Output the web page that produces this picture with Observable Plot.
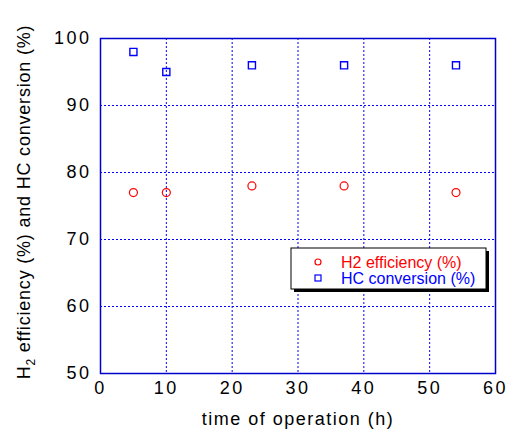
<!DOCTYPE html>
<html><head><meta charset="utf-8">
<script src="https://cdn.jsdelivr.net/npm/d3@7"></script>
<script src="https://cdn.jsdelivr.net/npm/@observablehq/plot@0.6"></script>
<style>body{margin:0;background:#fff}</style>
</head><body><div id="chart"></div>
<script>
const times = [5, 10, 23, 37, 54];
const h2Efficiency = [77, 77, 78, 78, 77];
const hcConversion = [98, 95, 96, 96, 96];
const xTicks = [0, 10, 20, 30, 40, 50, 60];
const yTicks = [50, 60, 70, 80, 90, 100];
const seriesNames = ["H2 efficiency (%)", "HC conversion (%)"];

const h2 = times.map((t, i) => ({t, v: h2Efficiency[i]}));
const hc = times.map((t, i) => ({t, v: hcConversion[i]}));
const font = "Liberation Sans, Arial, sans-serif";

const plot = Plot.plot({
  width: 509, height: 432,
  marginLeft: 100, marginRight: 14, marginTop: 38, marginBottom: 59,
  style: {fontFamily: font, fontSize: "18px", color: "#000", background: "#fff"},
  x: {domain: [0, 60], ticks: xTicks, label: null},
  y: {domain: [50, 100], ticks: yTicks, label: null},
  marks: [
    Plot.gridX(xTicks.slice(1, -1), {stroke: "#0000ff", strokeOpacity: 1, strokeDasharray: "2,2"}),
    Plot.gridY(yTicks.slice(1, -1), {stroke: "#0000ff", strokeOpacity: 1, strokeDasharray: "2,2"}),
    Plot.frame({stroke: "#0000cc", strokeWidth: 1.5}),
    Plot.axisX({ticks: xTicks, tickSize: 0, tickPadding: 8, fontSize: 18, fill: "#000", label: null}),
    Plot.axisY({ticks: yTicks, tickSize: 0, tickPadding: 9, fontSize: 18, fill: "#000", label: null}),
    Plot.dot(h2, {x: "t", y: "v", r: 4, stroke: "#ff0000", strokeWidth: 1.2, symbol: "circle"}),
    Plot.dot(hc, {x: "t", y: "v", r: 4, stroke: "#0000ff", strokeWidth: 1.4, symbol: "square"})
  ]
});
document.getElementById("chart").append(plot);

const svg = d3.select(plot);
svg.selectAll("text").attr("letter-spacing", "2.5").style("letter-spacing", "2.5px");
// x axis label
svg.append("text").attr("x", 298).attr("y", 425).attr("text-anchor", "middle")
  .attr("font-family", font).attr("font-size", 18).attr("fill", "#000")
  .style("letter-spacing", "1.5px")
  .text("time of operation (h)");
// y axis label with subscript
const yl = svg.append("text").attr("transform", "translate(30,202) rotate(-90)")
  .attr("text-anchor", "middle").attr("font-family", font).attr("font-size", 18).attr("fill", "#000")
  .style("letter-spacing", "0.8px");
yl.append("tspan").text("H");
yl.append("tspan").attr("font-size", 12).attr("dy", 5).text("2");
yl.append("tspan").attr("dy", -5).text(" efficiency (%) and HC conversion (%)");

// legend
const lg = svg.append("g").attr("text-anchor", "start");
lg.append("rect").attr("x", 294).attr("y", 251).attr("width", 195).attr("height", 41).attr("fill", "#000");
lg.append("rect").attr("x", 291).attr("y", 248).attr("width", 195).attr("height", 41).attr("fill", "#fff").attr("stroke", "#000").attr("stroke-width", 1);
lg.append("circle").attr("cx", 318).attr("cy", 262).attr("r", 3).attr("fill", "none").attr("stroke", "#ff0000").attr("stroke-width", 1.2);
lg.append("rect").attr("x", 315).attr("y", 275).attr("width", 6).attr("height", 6).attr("fill", "none").attr("stroke", "#0000ff").attr("stroke-width", 1.2);
lg.append("text").attr("x", 341).attr("y", 268).attr("font-family", font).attr("font-size", 16).attr("fill", "#ff0000").text(seriesNames[0]);
lg.append("text").attr("x", 341).attr("y", 284).attr("font-family", font).attr("font-size", 16).attr("fill", "#0000ff").text(seriesNames[1]);
</script>
</body></html>
